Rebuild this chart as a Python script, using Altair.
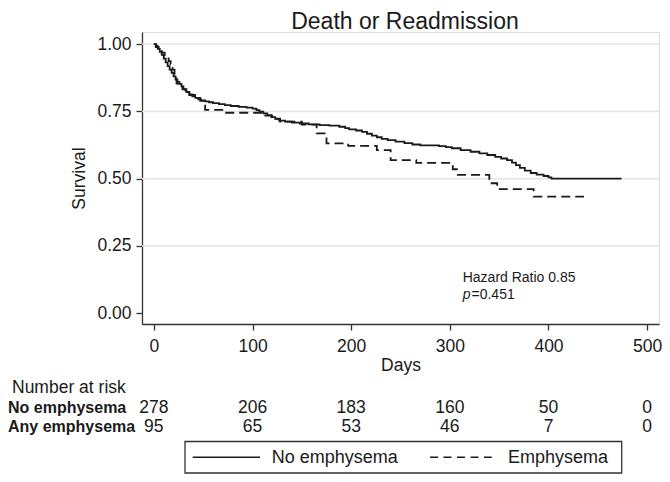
import altair as alt
import pandas as pd

# ---- data ----
solid_days = [0, 2, 4, 6, 8, 10, 12, 14, 16, 18, 20, 22, 24, 26, 28, 30, 33, 36, 39, 42,
              45, 48, 52, 56, 60, 66, 72, 78, 86, 94, 100, 104, 107, 111, 115, 119, 123,
              127, 133, 140, 148, 157, 168, 178, 188, 194, 198, 205, 211, 216, 221, 226,
              231, 237, 245, 254, 262, 270, 289, 296, 302, 311, 321, 330, 338, 346, 352,
              358, 363, 367, 371, 376, 382, 388, 395, 400, 403, 474]
solid_surv = [1.000, 0.993, 0.982, 0.971, 0.960, 0.946, 0.932, 0.918, 0.905, 0.893, 0.880,
              0.868, 0.860, 0.852, 0.843, 0.833, 0.822, 0.813, 0.806, 0.800, 0.795, 0.791,
              0.787, 0.784, 0.781, 0.777, 0.773, 0.770, 0.767, 0.764, 0.760, 0.755, 0.749,
              0.743, 0.736, 0.729, 0.722, 0.716, 0.712, 0.708, 0.705, 0.702, 0.699, 0.697,
              0.693, 0.688, 0.683, 0.679, 0.674, 0.667, 0.660, 0.654, 0.648, 0.643, 0.638,
              0.632, 0.627, 0.624, 0.621, 0.617, 0.613, 0.606, 0.600, 0.594, 0.588, 0.581,
              0.575, 0.569, 0.560, 0.550, 0.540, 0.530, 0.521, 0.515, 0.510, 0.505, 0.500,
              0.500]

dash_days = [0, 2, 5, 8, 11, 13, 15, 17, 19, 21, 23, 26, 29, 32, 36, 44, 47, 52, 71, 110,
             113, 120, 128, 150, 165, 175, 197, 226, 240, 266, 303, 308, 340, 348, 385, 436]
dash_surv = [1.000, 0.989, 0.979, 0.968, 0.958, 0.947, 0.937, 0.926, 0.905, 0.884, 0.853,
             0.842, 0.832, 0.821, 0.811, 0.800, 0.789, 0.756, 0.745, 0.740, 0.734, 0.723,
             0.712, 0.701, 0.668, 0.631, 0.622, 0.606, 0.569, 0.559, 0.535, 0.514, 0.483,
             0.461, 0.433, 0.433]

group_names = ["No emphysema", "Emphysema"]
risk_days = [0, 100, 200, 300, 400, 500]
risk_no = [278, 206, 183, 160, 50, 0]
risk_any = [95, 65, 53, 46, 7, 0]
row_labels = ["No emphysema", "Any emphysema"]
risk_header = ["Number at risk"]
x_ticks = [0, 100, 200, 300, 400, 500]
y_ticks = [0.0, 0.25, 0.5, 0.75, 1.0]
grid_vals = [0.25, 0.5, 0.75, 1.0]
title_text = ["Death or Readmission"]
hr_text = ["Hazard Ratio 0.85"]
p_letter = ["p"]
p_value = ["=0.451"]

FONT = "Liberation Sans"
INK = "#1a1a1a"
AX = "#333333"
DASH = [9, 5]

curves = pd.DataFrame({
    "day": solid_days + dash_days,
    "surv": solid_surv + dash_surv,
    "group": [group_names[0]] * len(solid_days) + [group_names[1]] * len(dash_days),
})
risk = pd.DataFrame({"day": risk_days, "no": risk_no, "any": risk_any})
grid_df = pd.DataFrame({"surv": grid_vals})

xscale = alt.Scale(domain=[-12, 512], nice=False, zero=False)
yscale = alt.Scale(domain=[-0.04, 1.045], nice=False, zero=False)

xaxis = alt.Axis(values=x_ticks, title="Days", grid=False, tickSize=6, tickWidth=1.3,
                 tickColor=AX, domainColor=AX, domainWidth=1.3, labelPadding=7,
                 labelFontSize=17.5, labelFont=FONT, labelColor=INK, titleFont=FONT,
                 titleFontSize=17.5, titleFontWeight="normal", titleColor=INK,
                 titlePadding=2, labelFlush=False)
yaxis = alt.Axis(values=y_ticks, title="Survival", format=".2f", grid=False, tickSize=6,
                 tickWidth=1.3, tickColor=AX, domainColor=AX, domainWidth=1.3,
                 labelPadding=5, labelFontSize=17.5, labelFont=FONT, labelColor=INK,
                 titleFont=FONT, titleFontSize=17.5, titleFontWeight="normal",
                 titleColor=INK, titlePadding=8, labelFlush=False)

X = alt.X("day:Q", scale=xscale, axis=xaxis)
Y = alt.Y("surv:Q", scale=yscale, axis=yaxis)

grid = alt.Chart(grid_df).mark_rule(color="#e4e4e4", strokeWidth=1.5).encode(y=Y)

lines = alt.Chart(curves).mark_line(interpolate="step-after", strokeWidth=1.8, color=INK).encode(
    x=X,
    y=Y,
    strokeDash=alt.StrokeDash(
        "group:N",
        scale=alt.Scale(domain=group_names, range=[[1, 0], DASH]),
        legend=None,
    ),
    detail="group:N",
)


def txt(values, x, y, size=17.5, weight="normal", style="normal", align="left"):
    return alt.Chart(pd.DataFrame({"t": values})).mark_text(
        font=FONT, fontSize=size, fontWeight=weight, fontStyle=style, color=INK,
        align=align, baseline="alphabetic",
    ).encode(x=alt.value(x), y=alt.value(y), text="t:N")


no_nums = alt.Chart(risk).mark_text(font=FONT, fontSize=17.5, color=INK, align="center",
                                    baseline="alphabetic").encode(
    x=X, y=alt.value(381.3), text="no:Q")
any_nums = alt.Chart(risk).mark_text(font=FONT, fontSize=17.5, color=INK, align="center",
                                     baseline="alphabetic").encode(
    x=X, y=alt.value(400.2), text="any:Q")

title = txt(title_text, 263, -3.2, size=23, align="center")
header = txt(risk_header, -130, 361.3)
row1 = txt([row_labels[0]], -134, 381.3, size=16, weight="bold")
row2 = txt([row_labels[1]], -134, 400.2, size=16, weight="bold")
hr = txt(hr_text, 320.7, 249.7, size=14)
pl = txt(p_letter, 320.7, 267, size=14, style="italic")
pv = txt(p_value, 329.5, 267, size=14)

# ---- legend box drawn below the risk table ----
leg_df = pd.DataFrame({"k": [0]})
leg_box = alt.Chart(leg_df).mark_rect(fill="white", stroke=AX, strokeWidth=1.3).encode(
    x=alt.value(43), x2=alt.value(479.7), y=alt.value(409.5), y2=alt.value(441))
leg_solid = alt.Chart(leg_df).mark_rule(color=INK, strokeWidth=1.6).encode(
    x=alt.value(50.7), x2=alt.value(118), y=alt.value(425.3))
leg_dash = alt.Chart(leg_df).mark_rule(color=INK, strokeWidth=1.6, strokeDash=[8, 5.5]).encode(
    x=alt.value(288), x2=alt.value(349.7), y=alt.value(425.3))
leg_t1 = txt([group_names[0]], 129.7, 431.3, size=18)
leg_t2 = txt([group_names[1]], 366, 431.3, size=18)

chart = alt.layer(grid, lines, no_nums, any_nums, title, header, row1, row2, hr, pl, pv,
                  leg_box, leg_solid, leg_dash, leg_t1, leg_t2).properties(
    width=517,
    height=292,
    autosize=alt.AutoSizeParams(type="none"),
    padding={"left": 134, "top": 24, "right": 3, "bottom": 150},
).configure_view(stroke=None).configure(background="white")

chart.save("out.html", embed_options={"renderer": "svg", "actions": False})
